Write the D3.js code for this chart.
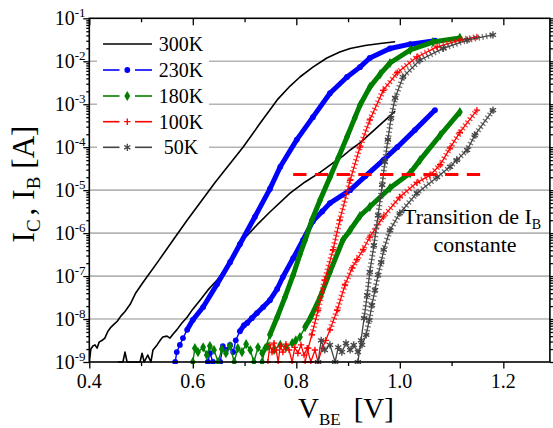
<!DOCTYPE html>
<html><head><meta charset="utf-8">
<script src="https://cdn.jsdelivr.net/npm/d3@7"></script>
<style>
body{margin:0;background:#fff}
svg{display:block}
text{font-family:"Liberation Serif","Times New Roman",serif;fill:#000}
</style>
</head><body>
<svg id="chart" width="553" height="428"></svg>
<script>
// ---------- data (V_BE in volts, current in amperes) ----------
const temperatures = ["300K", "230K", "180K", "100K", "50K"];
const xTickValues = [0.4, 0.6, 0.8, 1.0, 1.2];
const yTickExponents = [-9, -8, -7, -6, -5, -4, -3, -2, -1];

const ic300 = [[0.400,1e-9],[0.403,2.0e-9],[0.407,2.35e-9],[0.411,2.5e-9],[0.415,2.1e-9],[0.419,2.9e-9],[0.425,3.2e-9],[0.430,3.6e-9],[0.436,5.2e-9],[0.442,6.5e-9],[0.448,7.6e-9],[0.454,8.9e-9],[0.461,1.17e-8],[0.469,1.5e-8],[0.479,2.2e-8],[0.490,4.1e-8],[0.504,7.2e-8],[0.533,2.2e-7],[0.562,6.9e-7],[0.589,2.0e-6],[0.643,1.5e-5],[0.697,1.0e-4],[0.730,3.6e-4],[0.763,1.26e-3],[0.788,2.65e-3],[0.807,4.3e-3],[0.832,7.3e-3],[0.859,1.19e-2],[0.884,1.64e-2],[0.904,1.98e-2],[0.933,2.33e-2],[0.962,2.59e-2],[0.991,2.85e-2]];
const ib300 = [[0.455,1e-9],[0.465,1e-9],[0.469,1.7e-9],[0.473,1e-9],[0.498,1e-9],[0.502,1.6e-9],[0.506,1e-9],[0.513,1.45e-9],[0.519,1e-9],[0.523,1.9e-9],[0.531,2.5e-9],[0.537,3.2e-9],[0.542,3.8e-9],[0.550,4.0e-9],[0.556,3.6e-9],[0.562,4.5e-9],[0.569,5.6e-9],[0.579,8.1e-9],[0.589,1.1e-8],[0.600,1.7e-8],[0.614,2.75e-8],[0.629,4.7e-8],[0.647,8.1e-8],[0.672,2.0e-7],[0.697,6.9e-7],[0.724,1.55e-6],[0.749,3.1e-6],[0.788,8.5e-6],[0.817,1.55e-5],[0.846,2.6e-5],[0.871,4.3e-5],[0.890,6.2e-5],[0.904,8.6e-5],[0.923,1.26e-4],[0.952,2.6e-4],[0.991,6.9e-4]];

const ic230 = [[0.566,1e-9],[0.569,1.7e-9],[0.575,2.5e-9],[0.581,3.6e-9],[0.589,5.6e-9],[0.600,9.5e-9],[0.620,1.9e-8],[0.647,6.5e-8],[0.672,2.1e-7],[0.691,5.5e-7],[0.720,2.4e-6],[0.749,1.07e-5],[0.769,3.5e-5],[0.801,1.5e-4],[0.832,5.0e-4],[0.865,1.8e-3],[0.898,4.3e-3],[0.923,7.3e-3],[0.942,1.19e-2],[0.981,1.98e-2],[1.020,2.5e-2],[1.068,3.0e-2]];
const ib230 = [[0.629,1e-9],[0.633,1.6e-9],[0.639,1e-9],[0.653,1e-9],[0.658,2.35e-9],[0.664,1.9e-9],[0.672,2.5e-9],[0.678,1.7e-9],[0.683,3.2e-9],[0.691,5.2e-9],[0.699,7.2e-9],[0.705,8.1e-9],[0.714,1.05e-8],[0.724,1.38e-8],[0.736,1.9e-8],[0.749,2.75e-8],[0.763,5.0e-8],[0.774,9.5e-8],[0.794,2.6e-7],[0.813,6.9e-7],[0.832,1.9e-6],[0.850,3.2e-6],[0.865,5.0e-6],[0.904,1.0e-5],[0.933,2.1e-5],[0.968,5.0e-5],[0.995,1.0e-4],[1.029,2.5e-4],[1.068,7.3e-4]];

const ic180 = [[0.734,1e-9],[0.740,2.1e-9],[0.749,4.3e-9],[0.763,1.1e-8],[0.778,3.2e-8],[0.794,1.06e-7],[0.807,3.2e-7],[0.817,6.9e-7],[0.830,2.0e-6],[0.846,5.9e-6],[0.865,2.0e-5],[0.881,5.6e-5],[0.898,1.74e-4],[0.913,4.8e-4],[0.923,9.5e-4],[0.942,2.5e-3],[0.962,5.0e-3],[0.981,9.1e-3],[1.020,1.83e-2],[1.064,2.8e-2],[1.116,3.5e-2]];
const ib180 = [[0.600,1e-9],[0.604,2.1e-9],[0.610,1.7e-9],[0.620,2.2e-9],[0.627,1.45e-9],[0.633,2.35e-9],[0.641,1.9e-9],[0.649,1e-9],[0.656,2.0e-9],[0.664,1.6e-9],[0.672,2.35e-9],[0.680,1e-9],[0.687,2.1e-9],[0.695,1.7e-9],[0.703,2.6e-9],[0.711,1.9e-9],[0.718,1e-9],[0.726,2.2e-9],[0.734,1.6e-9],[0.745,2.35e-9],[0.757,1.9e-9],[0.769,2.5e-9],[0.780,2.2e-9],[0.792,2.75e-9],[0.799,3.2e-9],[0.807,3.8e-9],[0.817,6.5e-9],[0.827,1.05e-8],[0.846,3.2e-8],[0.865,1.25e-7],[0.890,6.9e-7],[0.904,1.17e-6],[0.923,2.5e-6],[0.942,4.1e-6],[0.981,1.12e-5],[1.020,2.5e-5],[1.039,5.0e-5],[1.078,1.9e-4],[1.116,6.6e-4]];

const ic100 = [[0.817,1e-9],[0.823,2.1e-9],[0.830,4.3e-9],[0.842,1.6e-8],[0.855,8.1e-8],[0.871,4.1e-7],[0.884,2.0e-6],[0.904,1.7e-5],[0.923,1.0e-4],[0.942,4.3e-4],[0.968,2.1e-3],[0.995,5.4e-3],[1.033,1.26e-2],[1.072,2.15e-2],[1.116,3.1e-2],[1.149,3.7e-2]];
const ib100 = [[0.745,1e-9],[0.749,2.5e-9],[0.753,1.7e-9],[0.757,2.75e-9],[0.761,1.9e-9],[0.765,1e-9],[0.769,2.35e-9],[0.774,1.7e-9],[0.780,2.6e-9],[0.786,1.9e-9],[0.792,1e-9],[0.797,2.2e-9],[0.803,1.6e-9],[0.809,2.5e-9],[0.815,1.45e-9],[0.821,2.1e-9],[0.828,1e-9],[0.836,1.9e-9],[0.842,1e-9],[0.850,2.1e-9],[0.857,3.2e-9],[0.865,5.6e-9],[0.879,1.6e-8],[0.894,6.2e-8],[0.908,1.55e-7],[0.917,2.4e-7],[0.929,4.1e-7],[0.942,8.1e-7],[0.968,2.4e-6],[1.000,6.9e-6],[1.033,1.5e-5],[1.058,2.2e-5],[1.078,3.9e-5],[1.097,9.5e-5],[1.116,2.2e-4],[1.149,7.3e-4]];

const ic50 = [[0.919,1e-9],[0.925,3.2e-9],[0.931,1.05e-8],[0.937,3.6e-8],[0.942,1.25e-7],[0.950,5.2e-7],[0.958,2.6e-6],[0.966,1.32e-5],[0.971,4.5e-5],[0.977,1.5e-4],[0.983,4.8e-4],[0.991,1.4e-3],[1.006,4.3e-3],[1.039,1.07e-2],[1.084,2.0e-2],[1.130,3.1e-2],[1.180,4.1e-2]];
const ib50 = [[0.842,1e-9],[0.848,3.2e-9],[0.855,1.9e-9],[0.865,2.5e-9],[0.875,1e-9],[0.881,2.2e-9],[0.888,1.7e-9],[0.896,2.75e-9],[0.904,1.9e-9],[0.911,2.5e-9],[0.919,1.7e-9],[0.927,2.5e-9],[0.935,4.3e-9],[0.941,9.5e-9],[0.946,2.1e-8],[0.952,4.7e-8],[0.958,1.06e-7],[0.964,2.1e-7],[0.969,4.1e-7],[0.981,1.17e-6],[1.000,2.9e-6],[1.033,8.5e-6],[1.072,2.0e-5],[1.097,3.5e-5],[1.110,5.0e-5],[1.130,8.6e-5],[1.145,1.9e-4],[1.180,7.3e-4]];

const transitionV = [0.794, 1.171];
const transitionI = 2.3e-5;

// ---------- layout ----------
const svg = d3.select("#chart");
const L = 89.3, R = 549.9, T = 18.3, B = 362;
const x = d3.scaleLinear().domain([0.4, 1.29]).range([L, R]);
const y = d3.scaleLog().domain([1e-9, 1e-1]).range([B, T]);

svg.append("defs").append("clipPath").attr("id", "plotclip")
  .append("rect").attr("x", L).attr("y", T - 2).attr("width", R - L).attr("height", B - T + 4);

// grid lines
svg.append("g").selectAll("line").data(yTickExponents.slice(1, -1)).join("line")
  .attr("x1", L).attr("x2", R)
  .attr("y1", d => y(Math.pow(10, d))).attr("y2", d => y(Math.pow(10, d)))
  .attr("stroke", "#b4b4b4").attr("stroke-width", 1.6);

// ---------- series ----------
const line = d3.line().x(d => x(d[0])).y(d => y(d[1]));
const plot = svg.append("g").attr("clip-path", "url(#plotclip)");

const styles = {
  "300K": {color: "#000000", ic: ic300, ib: ib300, marker: null},
  "230K": {color: "#0000ff", ic: ic230, ib: ib230, marker: "circle"},
  "180K": {color: "#008000", ic: ic180, ib: ib180, marker: "diamond"},
  "100K": {color: "#ff0000", ic: ic100, ib: ib100, marker: "plus"},
  "50K":  {color: "#444444", ic: ic50,  ib: ib50,  marker: "star"}
};

const plusPath = "M-3.2,0H3.2M0,-3.2V3.2";
const starPath = "M0,-3.6V3.6M-3.1,-1.8L3.1,1.8M-3.1,1.8L3.1,-1.8";
const diamondPath = d3.symbol().type(d3.symbolDiamond).size(30)();

function drawMarker(g, m, color, px, py) {
  if (m === "circle") {
    g.append("circle").attr("cx", px).attr("cy", py).attr("r", 2.9).attr("fill", color);
  } else if (m === "diamond") {
    g.append("path").attr("d", diamondPath).attr("transform", `translate(${px},${py})`).attr("fill", color);
  } else if (m === "plus") {
    g.append("path").attr("d", plusPath).attr("transform", `translate(${px},${py})`)
      .attr("stroke", color).attr("stroke-width", 1.3).attr("fill", "none");
  } else if (m === "star") {
    g.append("path").attr("d", starPath).attr("transform", `translate(${px},${py})`)
      .attr("stroke", color).attr("stroke-width", 1.3).attr("fill", "none");
  }
}

temperatures.forEach(t => {
  const s = styles[t];
  [s.ic, s.ib].forEach(data => {
    const g = plot.append("g");
    if (s.marker === null) {
      g.append("path").attr("d", line(data)).attr("fill", "none")
        .attr("stroke", s.color).attr("stroke-width", 1.6).attr("stroke-linejoin", "round");
    } else if (s.marker === "circle" || s.marker === "diamond") {
      g.append("path").attr("d", line(data)).attr("fill", "none")
        .attr("stroke", s.color).attr("stroke-width", 1.4);
      g.append("path").attr("d", line(data.filter(d => d[1] > 4e-9))).attr("fill", "none")
        .attr("stroke", s.color).attr("stroke-width", 5).attr("stroke-linejoin", "round");
      data.forEach(d => drawMarker(g, s.marker, s.color, x(d[0]), y(d[1])));
    } else {
      g.append("path").attr("d", line(data)).attr("fill", "none")
        .attr("stroke", s.color).attr("stroke-width", 1.3);
      g.append("path").attr("d", line(data.filter(d => d[1] > 4e-9))).attr("fill", "none")
        .attr("stroke", s.color).attr("stroke-width", 6).attr("stroke-dasharray", "1.3,2.6")
        .attr("opacity", 0.75);
      data.forEach(d => drawMarker(g, s.marker, s.color, x(d[0]), y(d[1])));
    }
  });
});

// transition line
svg.append("line")
  .attr("x1", x(transitionV[0])).attr("x2", x(transitionV[1]))
  .attr("y1", y(transitionI)).attr("y2", y(transitionI))
  .attr("stroke", "#ff0000").attr("stroke-width", 3).attr("stroke-dasharray", "13.3,8.4");

// annotation
const ann = svg.append("text").attr("x", 403).attr("y", 224).attr("font-size", 22);
ann.append("tspan").text("Transition de I");
ann.append("tspan").attr("font-size", 14).attr("dy", 5).text("B");
svg.append("text").attr("x", 475).attr("y", 252).attr("font-size", 22)
  .attr("text-anchor", "middle").text("constante");

// ---------- legend ----------
svg.append("rect").attr("x", 97).attr("y", 27).attr("width", 112).attr("height", 134).attr("fill", "#fff");
const legendY = [44, 70, 96, 121.7, 147.3];
temperatures.forEach((t, i) => {
  const s = styles[t];
  const ly = legendY[i];
  const g = svg.append("g");
  if (s.marker === null) {
    g.append("line").attr("x1", 103).attr("x2", 152).attr("y1", ly).attr("y2", ly)
      .attr("stroke", s.color).attr("stroke-width", 1.6);
  } else {
    [[103, 119.5], [135, 152]].forEach(seg => {
      g.append("line").attr("x1", seg[0]).attr("x2", seg[1]).attr("y1", ly).attr("y2", ly)
        .attr("stroke", s.color).attr("stroke-width", 1.6);
    });
    drawMarker(g, s.marker, s.color, 127.3, ly);
  }
  g.append("text").attr("x", 181).attr("y", ly + 7).attr("font-size", 20)
    .attr("text-anchor", "middle").text(t);
});

// ---------- axes ----------
const xMinor = d3.range(0.5, 1.3, 0.2).map(v => +v.toFixed(2));
const yMajor = yTickExponents.map(e => Math.pow(10, e));
const yMinor = [];
for (let e = -9; e < -1; e++) for (let k = 2; k <= 9; k++) yMinor.push(k * Math.pow(10, e));

function styleAxis(g) {
  g.select(".domain").remove();
  g.selectAll(".tick line").attr("stroke", "#000").attr("stroke-width", 1.3);
  g.selectAll(".tick text").remove();
}

svg.append("g").attr("transform", `translate(0,${B})`)
  .call(d3.axisBottom(x).tickValues(xTickValues).tickSize(6.5).tickFormat("")).call(styleAxis);
svg.append("g").attr("transform", `translate(0,${B})`)
  .call(d3.axisBottom(x).tickValues(xMinor).tickSize(4).tickFormat("")).call(styleAxis);
svg.append("g").attr("transform", `translate(0,${T})`)
  .call(d3.axisBottom(x).tickValues(xTickValues).tickSize(7).tickFormat("")).call(styleAxis);
svg.append("g").attr("transform", `translate(0,${T})`)
  .call(d3.axisBottom(x).tickValues(xMinor).tickSize(4).tickFormat("")).call(styleAxis);
svg.append("g").attr("transform", `translate(${L},0)`)
  .call(d3.axisLeft(y).tickValues(yMajor).tickSize(6).tickFormat("")).call(styleAxis);
svg.append("g").attr("transform", `translate(${L},0)`)
  .call(d3.axisLeft(y).tickValues(yMinor).tickSize(3).tickFormat("")).call(styleAxis);
svg.append("g").attr("transform", `translate(${R},0)`)
  .call(d3.axisRight(y).tickValues(yMajor).tickSize(6).tickFormat("")).call(styleAxis);
svg.append("g").attr("transform", `translate(${R},0)`)
  .call(d3.axisRight(y).tickValues(yMinor).tickSize(3).tickFormat("")).call(styleAxis);

svg.append("rect").attr("x", L).attr("y", T).attr("width", R - L).attr("height", B - T)
  .attr("fill", "none").attr("stroke", "#000").attr("stroke-width", 1.6);

svg.append("g").selectAll("text").data(xTickValues).join("text")
  .attr("x", d => x(d)).attr("y", 388).attr("font-size", 20).attr("text-anchor", "middle")
  .text(d => d.toFixed(1));

yTickExponents.forEach(e => {
  const t = svg.append("text").attr("x", 85.5).attr("y", y(Math.pow(10, e)) + 6.5)
    .attr("font-size", 20).attr("text-anchor", "end");
  t.append("tspan").text("10");
  t.append("tspan").attr("font-size", 13).attr("dy", -8).text(String(e));
});

const xt = svg.append("text").attr("x", 298).attr("y", 418).attr("font-size", 29);
xt.append("tspan").text("V");
xt.append("tspan").attr("font-size", 17).attr("dy", 7).text("BE");
xt.append("tspan").attr("dy", -7).attr("dx", 13).text("[V]");

const yt = svg.append("text").attr("transform", "translate(34,184) rotate(-90)")
  .attr("font-size", 31).attr("text-anchor", "middle");
yt.append("tspan").text("I");
yt.append("tspan").attr("font-size", 19).attr("dy", 6).text("C");
yt.append("tspan").attr("dy", -6).attr("dx", 4).text(",");
yt.append("tspan").attr("dx", 8).text("I");
yt.append("tspan").attr("font-size", 19).attr("dy", 6).text("B");
yt.append("tspan").attr("dy", -6).attr("dx", 8).text("[A]");
</script>
</body></html>
